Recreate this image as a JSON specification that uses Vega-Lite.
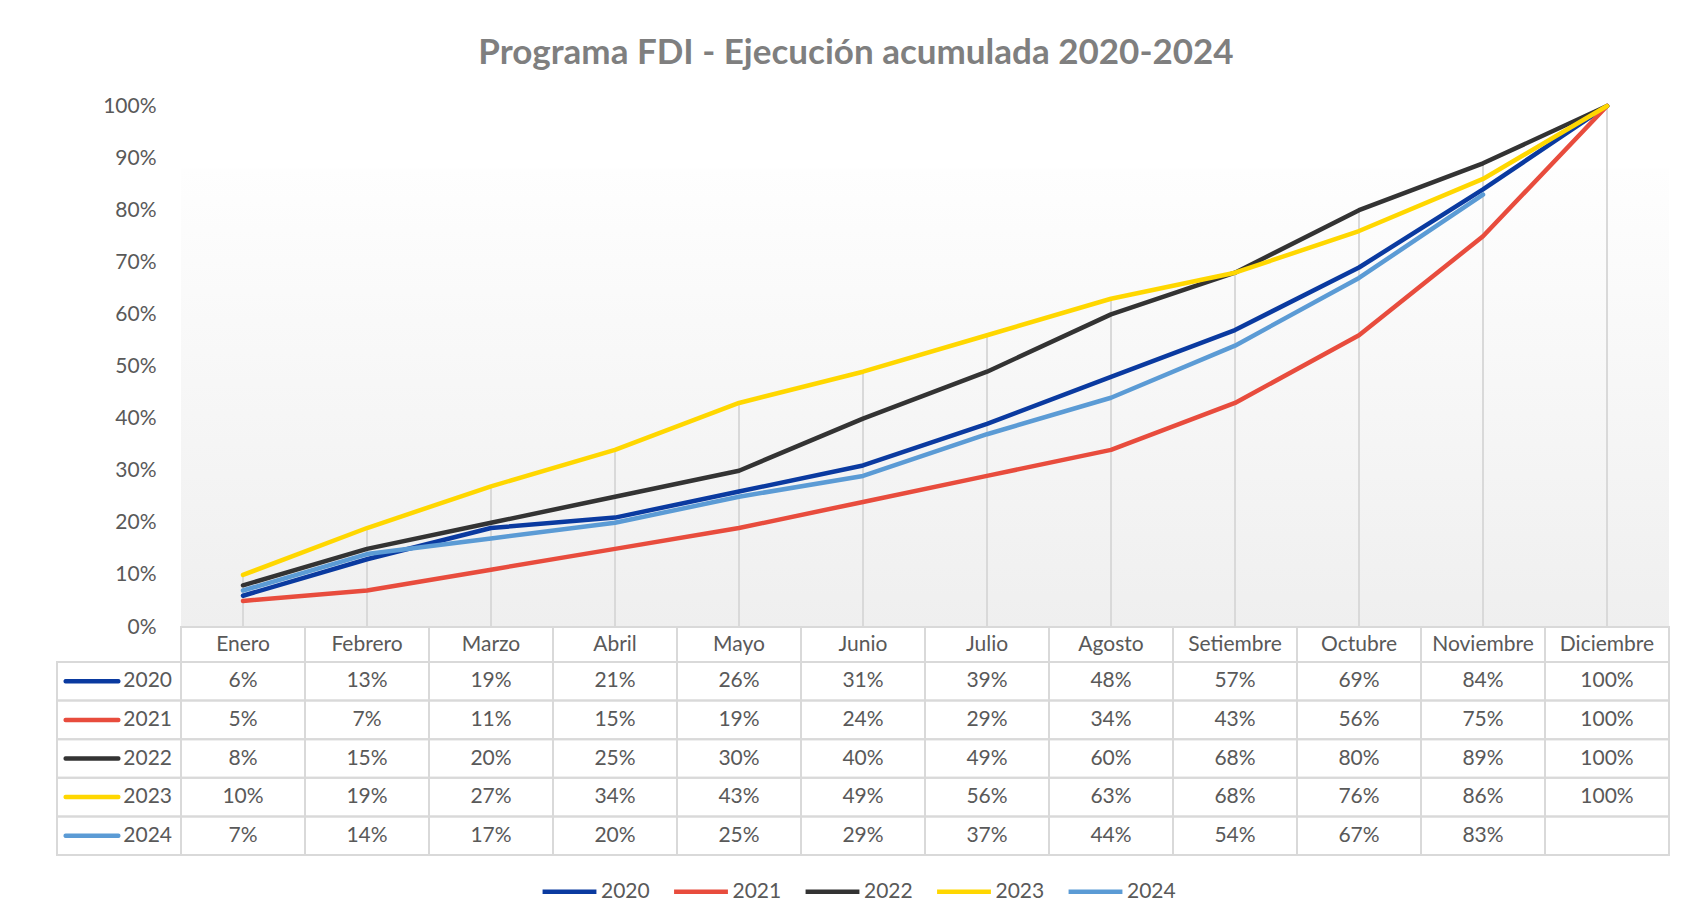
{
  "$schema": "https://vega.github.io/schema/vega-lite/v6.json",
  "padding": {"left": 56, "top": 35, "right": 16, "bottom": 0},
  "background": "white",
  "title": {"text": "Programa  FDI - Ejecución acumulada 2020-2024", "fontSize": 35, "font": "Lato", "fontWeight": "bold", "color": "#7f7f7f", "anchor": "middle", "offset": 24.5, "dx": -7, "letterSpacing": 2.6},
  "datasets": {
    "d": [
      {"year": "2020", "month": "Enero", "value": 0.06}, {"year": "2020", "month": "Febrero", "value": 0.13}, {"year": "2020", "month": "Marzo", "value": 0.19}, {"year": "2020", "month": "Abril", "value": 0.21}, {"year": "2020", "month": "Mayo", "value": 0.26}, {"year": "2020", "month": "Junio", "value": 0.31}, {"year": "2020", "month": "Julio", "value": 0.39}, {"year": "2020", "month": "Agosto", "value": 0.48}, {"year": "2020", "month": "Setiembre", "value": 0.57}, {"year": "2020", "month": "Octubre", "value": 0.69}, {"year": "2020", "month": "Noviembre", "value": 0.84}, {"year": "2020", "month": "Diciembre", "value": 1.0},
      {"year": "2021", "month": "Enero", "value": 0.05}, {"year": "2021", "month": "Febrero", "value": 0.07}, {"year": "2021", "month": "Marzo", "value": 0.11}, {"year": "2021", "month": "Abril", "value": 0.15}, {"year": "2021", "month": "Mayo", "value": 0.19}, {"year": "2021", "month": "Junio", "value": 0.24}, {"year": "2021", "month": "Julio", "value": 0.29}, {"year": "2021", "month": "Agosto", "value": 0.34}, {"year": "2021", "month": "Setiembre", "value": 0.43}, {"year": "2021", "month": "Octubre", "value": 0.56}, {"year": "2021", "month": "Noviembre", "value": 0.75}, {"year": "2021", "month": "Diciembre", "value": 1.0},
      {"year": "2022", "month": "Enero", "value": 0.08}, {"year": "2022", "month": "Febrero", "value": 0.15}, {"year": "2022", "month": "Marzo", "value": 0.20}, {"year": "2022", "month": "Abril", "value": 0.25}, {"year": "2022", "month": "Mayo", "value": 0.30}, {"year": "2022", "month": "Junio", "value": 0.40}, {"year": "2022", "month": "Julio", "value": 0.49}, {"year": "2022", "month": "Agosto", "value": 0.60}, {"year": "2022", "month": "Setiembre", "value": 0.68}, {"year": "2022", "month": "Octubre", "value": 0.80}, {"year": "2022", "month": "Noviembre", "value": 0.89}, {"year": "2022", "month": "Diciembre", "value": 1.0},
      {"year": "2023", "month": "Enero", "value": 0.10}, {"year": "2023", "month": "Febrero", "value": 0.19}, {"year": "2023", "month": "Marzo", "value": 0.27}, {"year": "2023", "month": "Abril", "value": 0.34}, {"year": "2023", "month": "Mayo", "value": 0.43}, {"year": "2023", "month": "Junio", "value": 0.49}, {"year": "2023", "month": "Julio", "value": 0.56}, {"year": "2023", "month": "Agosto", "value": 0.63}, {"year": "2023", "month": "Setiembre", "value": 0.68}, {"year": "2023", "month": "Octubre", "value": 0.76}, {"year": "2023", "month": "Noviembre", "value": 0.86}, {"year": "2023", "month": "Diciembre", "value": 1.0},
      {"year": "2024", "month": "Enero", "value": 0.07}, {"year": "2024", "month": "Febrero", "value": 0.14}, {"year": "2024", "month": "Marzo", "value": 0.17}, {"year": "2024", "month": "Abril", "value": 0.20}, {"year": "2024", "month": "Mayo", "value": 0.25}, {"year": "2024", "month": "Junio", "value": 0.29}, {"year": "2024", "month": "Julio", "value": 0.37}, {"year": "2024", "month": "Agosto", "value": 0.44}, {"year": "2024", "month": "Setiembre", "value": 0.54}, {"year": "2024", "month": "Octubre", "value": 0.67}, {"year": "2024", "month": "Noviembre", "value": 0.83}, {"year": "2024", "month": "Diciembre", "value": null}
    ],
    "months": [
      {"month": "Enero"}, {"month": "Febrero"}, {"month": "Marzo"}, {"month": "Abril"}, {"month": "Mayo"}, {"month": "Junio"}, {"month": "Julio"}, {"month": "Agosto"}, {"month": "Setiembre"}, {"month": "Octubre"}, {"month": "Noviembre"}, {"month": "Diciembre"}
    ],
    "years": [
      {"year": "2020"}, {"year": "2021"}, {"year": "2022"}, {"year": "2023"}, {"year": "2024"}
    ]
  },
  "spacing": 0,
  "bounds": "flush",
  "resolve": {"scale": {"color": "shared"}, "legend": {"color": "shared"}},
  "vconcat": [
    {
      "width": 1612,
      "height": 521,
      "data": {"name": "d"},
      "layer": [
        {
          "mark": {"type": "rect", "color": {"gradient": "linear", "x1": 0, "y1": 0, "x2": 0, "y2": 1, "stops": [{"offset": 0, "color": "#fefefe"}, {"offset": 1, "color": "#efefef"}]}},
          "encoding": {
            "x": {"field": "month", "type": "nominal", "scale": {"type": "band", "domain": [" ", "Enero", "Febrero", "Marzo", "Abril", "Mayo", "Junio", "Julio", "Agosto", "Setiembre", "Octubre", "Noviembre", "Diciembre"], "paddingInner": 0, "paddingOuter": 0}, "axis": null},
            "y": {"datum": 0.88, "type": "quantitative"},
            "y2": {"datum": 0}
          }
        },
        {
          "mark": {"type": "rule", "color": "#d9d9d9", "strokeWidth": 2},
          "encoding": {
            "x": {"field": "month", "type": "nominal"},
            "y": {"field": "value", "aggregate": "max", "type": "quantitative"},
            "y2": {"datum": 0}
          }
        },
        {
          "mark": {"type": "line", "strokeWidth": 4.5, "strokeJoin": "round", "strokeCap": "round"},
          "encoding": {
            "x": {"field": "month", "type": "nominal", "sort": ["Enero", "Febrero", "Marzo", "Abril", "Mayo", "Junio", "Julio", "Agosto", "Setiembre", "Octubre", "Noviembre", "Diciembre"]},
            "y": {"field": "value", "type": "quantitative", "scale": {"domain": [0, 1], "nice": false, "zero": true},
                  "axis": {"values": [0, 0.1, 0.2, 0.3, 0.4, 0.5, 0.6, 0.7, 0.8, 0.9, 1.0], "format": ".0%", "grid": false, "domain": false, "ticks": false, "labelFontSize": 21, "labelColor": "#595959", "labelFont": "Lato", "offset": -124, "labelPadding": 25, "title": null}},
            "color": {"field": "year", "type": "nominal",
                      "scale": {"domain": ["2020", "2021", "2022", "2023", "2024"], "range": ["#0a3aa0", "#e84c3d", "#333333", "#ffd700", "#5b9bd5"]},
                      "legend": {"title": null, "orient": "none", "legendX": 483, "legendY": 756, "direction": "horizontal", "symbolType": "stroke", "symbolSize": 2900, "symbolStrokeWidth": 4.5, "labelFontSize": 21, "labelColor": "#595959", "labelFont": "Lato", "columnPadding": 14.5, "labelOffset": 2}}
          }
        }
      ]
    },
    {
      "width": 1612,
      "height": 35,
      "data": {"name": "months"},
      "layer": [
        {
          "mark": {"type": "rect", "filled": false, "stroke": "#d9d9d9", "strokeWidth": 2},
          "encoding": {
            "x": {"field": "month", "type": "nominal", "scale": {"type": "band", "domain": [" ", "Enero", "Febrero", "Marzo", "Abril", "Mayo", "Junio", "Julio", "Agosto", "Setiembre", "Octubre", "Noviembre", "Diciembre"], "paddingInner": 0, "paddingOuter": 0}, "axis": null}
          }
        },
        {
          "mark": {"type": "text", "fontSize": 21, "font": "Lato", "color": "#595959"},
          "encoding": {
            "x": {"field": "month", "type": "nominal"},
            "text": {"field": "month", "type": "nominal"}
          }
        }
      ]
    },
    {
      "width": 1612,
      "height": 193,
      "layer": [
        {
          "data": {"name": "d"},
          "mark": {"type": "rect", "filled": false, "stroke": "#d9d9d9", "strokeWidth": 2},
          "encoding": {
            "x": {"field": "month", "type": "nominal", "scale": {"type": "band", "domain": [" ", "Enero", "Febrero", "Marzo", "Abril", "Mayo", "Junio", "Julio", "Agosto", "Setiembre", "Octubre", "Noviembre", "Diciembre"], "paddingInner": 0, "paddingOuter": 0}, "axis": null},
            "y": {"field": "year", "type": "nominal", "scale": {"type": "band", "domain": ["2020", "2021", "2022", "2023", "2024"], "paddingInner": 0, "paddingOuter": 0}, "axis": null}
          }
        },
        {
          "data": {"name": "years"},
          "mark": {"type": "rect", "filled": false, "stroke": "#d9d9d9", "strokeWidth": 2},
          "encoding": {
            "x": {"datum": " ", "type": "nominal"},
            "y": {"field": "year", "type": "nominal"}
          }
        },
        {
          "data": {"name": "d"},
          "transform": [{"filter": "datum.value != null"}],
          "mark": {"type": "text", "fontSize": 21, "font": "Lato", "color": "#595959"},
          "encoding": {
            "x": {"field": "month", "type": "nominal"},
            "y": {"field": "year", "type": "nominal"},
            "text": {"field": "value", "type": "quantitative", "format": ".0%"}
          }
        },
        {
          "data": {"name": "years"},
          "mark": {"type": "tick", "orient": "horizontal", "size": 57, "thickness": 4.5, "xOffset": -27, "cornerRadius": 2, "opacity": 1},
          "encoding": {
            "x": {"datum": " ", "type": "nominal"},
            "y": {"field": "year", "type": "nominal"},
            "color": {"field": "year", "type": "nominal", "legend": null}
          }
        },
        {
          "data": {"name": "years"},
          "mark": {"type": "text", "fontSize": 21, "font": "Lato", "color": "#595959", "align": "right", "dx": 53},
          "encoding": {
            "x": {"datum": " ", "type": "nominal"},
            "y": {"field": "year", "type": "nominal"},
            "text": {"field": "year", "type": "nominal"}
          }
        }
      ]
    }
  ],
  "config": {
    "view": {"stroke": null},
    "font": "Lato"
  }
}
